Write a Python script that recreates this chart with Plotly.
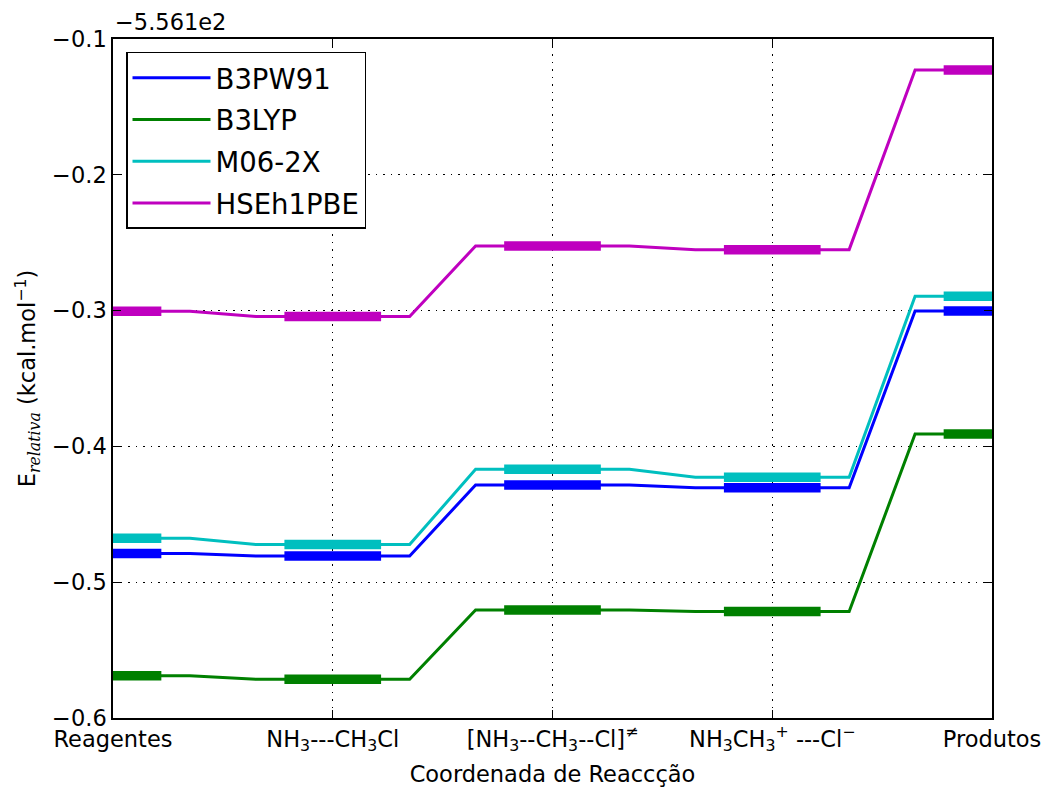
import plotly.graph_objects as go

# ---- data ----
categories = [
    "Reagentes",
    "NH<sub>3</sub>---CH<sub>3</sub>Cl",
    "[NH<sub>3</sub>--CH<sub>3</sub>--Cl]<sup>≠</sup>",
    "NH<sub>3</sub>CH<sub>3</sub><sup>+</sup> ---Cl<sup>−</sup>",
    "Produtos",
]
positions = [0, 1, 2, 3, 4]
offset = -556.1
b3pw91 = [-556.5789, -556.5807, -556.5284, -556.5305, -556.4003]
b3lyp = [-556.6689, -556.6715, -556.6205, -556.6216, -556.4909]
m062x = [-556.5677, -556.5723, -556.5169, -556.5228, -556.3895]
hse = [-556.4005, -556.4043, -556.3524, -556.3551, -556.2228]
series_names = ["B3PW91", "B3LYP", "M06-2X", "HSEh1PBE"]
series_values = [b3pw91, b3lyp, m062x, hse]
colors = ["#0000ff", "#008000", "#00bfbf", "#bf00bf"]

THIN_HALF = 0.35
THICK_HALF = 0.22
FONT = "DejaVu Sans"

fig = go.Figure()
for name, vals, col in zip(series_names, series_values, colors):
    rel = [v - offset for v in vals]
    tx, ty = [], []
    for p, e in zip(positions, rel):
        tx += [p - THIN_HALF, p + THIN_HALF]
        ty += [e, e]
    fig.add_trace(go.Scatter(x=tx, y=ty, mode="lines", name=name,
                             legendgroup=name,
                             line=dict(color=col, width=3)))
    bx, by = [], []
    for p, e in zip(positions, rel):
        bx += [p - THICK_HALF, p + THICK_HALF, None]
        by += [e, e, None]
    fig.add_trace(go.Scatter(x=bx, y=by, mode="lines", showlegend=False,
                             legendgroup=name, hoverinfo="skip",
                             line=dict(color=col, width=9.5)))

axis_common = dict(
    showline=True, linecolor="black", linewidth=1.5, mirror="allticks",
    ticks="inside", ticklen=8, tickwidth=1, tickcolor="black",
    showgrid=True, gridcolor="black", gridwidth=1, griddash="1.5px,6px",
    zeroline=False, automargin=False,
    tickfont=dict(family=FONT, size=22.5, color="black"),
)

fig.update_xaxes(
    range=[0, 4], tickmode="array", tickvals=positions, ticktext=categories,
    title=dict(text="Coordenada de Reaccção", font=dict(family=FONT, size=22.5, color="black"),
               standoff=14),
    **axis_common,
)
fig.update_yaxes(
    range=[-0.6, -0.1], tickmode="linear", tick0=-0.6, dtick=0.1, tickformat=".1f",
    title=dict(text="E<sub><span style='font-family:DejaVu Serif'><i>relativa</i></span></sub> (kcal.mol<sup>−1</sup>)",
               font=dict(family=FONT, size=22.5, color="black"), standoff=10),
    **axis_common,
)

fig.add_annotation(
    text="−5.561e2", xref="paper", yref="paper", x=0, y=1, xanchor="left", yanchor="bottom",
    yshift=2, showarrow=False, font=dict(family=FONT, size=22.5, color="black"),
)

fig.update_layout(
    width=1047, height=787,
    margin=dict(l=113, r=55, t=39, b=69),
    paper_bgcolor="white", plot_bgcolor="white",
    font=dict(family=FONT, color="black"),
    legend=dict(x=0.0148, y=0.981, xanchor="left", yanchor="top",
                bgcolor="white", bordercolor="black", borderwidth=1.5,
                font=dict(family=FONT, size=27.5, color="black"),
                tracegroupgap=3, itemwidth=78),
    showlegend=True,
)

fig.write_html("out.html")
